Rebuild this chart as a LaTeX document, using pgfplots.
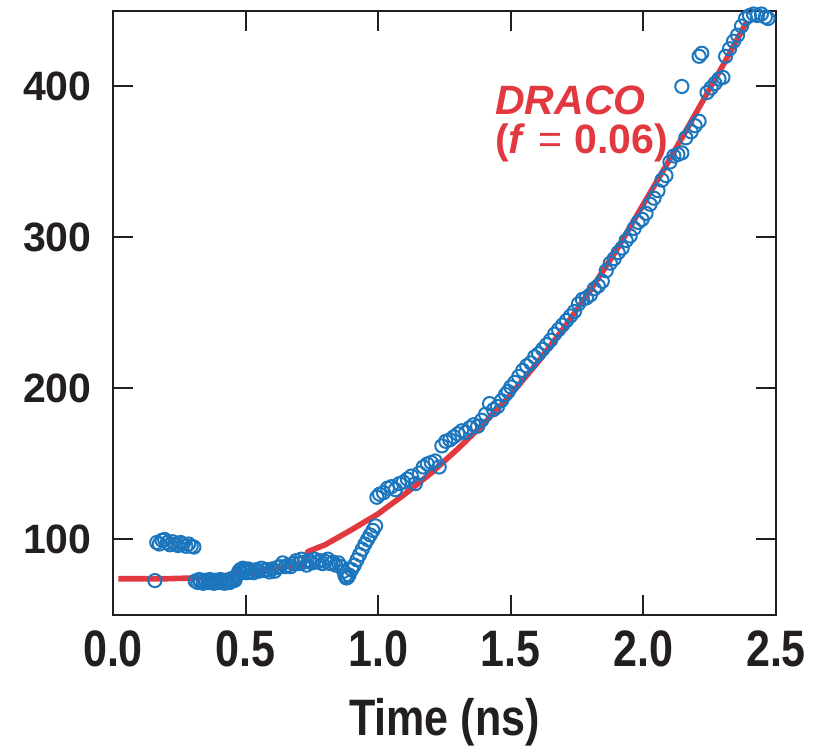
\documentclass[border=0pt]{standalone}
\usepackage{fontspec}
\setmainfont{Liberation Sans}
\usepackage{graphicx}
\usepackage{pgfplots}
\pgfplotsset{compat=1.18}
\definecolor{dblue}{RGB}{28,118,190}
\definecolor{dred}{RGB}{226,56,64}
\definecolor{axgray}{RGB}{35,31,32}
\newcommand{\lblfont}{\fontsize{20.5}{20}\selectfont\bfseries}
\newcommand{\xs}[1]{\scalebox{1.05}[1.25]{#1}}
\begin{document}
\begin{tikzpicture}
\useasboundingbox (-56.5pt,-66pt) rectangle (350.5pt,307.5pt);
\begin{axis}[
  at={(0,0)}, anchor=south west,
  scale only axis, width=331.5pt, height=302pt,
  xmin=0, xmax=2.5, ymin=50, ymax=450,
  axis line style={axgray, line width=1pt},
  tick style={axgray, line width=1pt},
  major tick length=10pt,
  tick align=inside,
  xtick={0,0.5,1,1.5,2,2.5},
  xticklabels={\xs{0.0},\xs{0.5},\xs{1.0},\xs{1.5},\xs{2.0},\xs{2.5}},
  ytick={100,200,300,400},
  yticklabels={100,200,300,400},
  xticklabel style={font=\lblfont, text=axgray, anchor=center, inner sep=0pt, yshift=-17pt},
  yticklabel style={font=\lblfont, text=axgray, anchor=east, inner sep=0pt, xshift=-10.5pt},
  xlabel={\xs{Time (ns)}},
  xlabel style={font=\lblfont, text=axgray, at={(axis description cs:0.5,0)}, anchor=center, yshift=-53.5pt},
]
\addplot[only marks, mark=o, mark size=3.3pt, mark options={dblue, line width=1pt}] coordinates {
(0.158,72.8)
(0.165,98) (0.175,97) (0.185,99.5) (0.195,100) (0.205,98) (0.215,96.5) (0.225,98.5) (0.235,97) (0.245,96) (0.255,98) (0.265,97) (0.275,95.5) (0.285,97) (0.295,95.5) (0.305,95)
(0.31,72.5) (0.32,71.5) (0.325,73.5) (0.33,72) (0.34,71) (0.345,73) (0.35,72) (0.36,71.5) (0.365,73.5) (0.37,72) (0.38,71) (0.385,73) (0.39,72) (0.40,71.5) (0.405,73.5) (0.41,72) (0.42,71) (0.425,73) (0.43,72) (0.44,71.5) (0.445,74) (0.45,72.5) (0.46,73) (0.465,75.5) (0.47,77) (0.475,79) (0.48,80) (0.485,78) (0.49,81) (0.495,79)
(0.50,80) (0.505,78) (0.51,80.5) (0.52,79) (0.53,78) (0.54,80) (0.55,79) (0.56,81) (0.57,79.5) (0.58,80) (0.59,78.5) (0.60,80.5) (0.61,79) (0.62,81.5) (0.63,82) (0.64,84.5) (0.65,82) (0.66,83) (0.67,82) (0.68,84) (0.69,86) (0.70,84) (0.71,87) (0.72,85) (0.73,83) (0.74,86) (0.75,84.5) (0.76,87) (0.77,85) (0.78,86) (0.79,84) (0.80,85.5) (0.81,87) (0.82,84) (0.83,85) (0.84,83) (0.85,84.5) (0.86,82) (0.87,79) (0.875,76) (0.88,74.5) (0.885,75) (0.89,76.5) (0.90,80) (0.91,83) (0.92,86.5) (0.93,90) (0.94,93.5) (0.95,97) (0.96,100) (0.97,103) (0.98,106) (0.99,109)
(0.995,128) (1.005,130) (1.02,131) (1.035,134) (1.05,135) (1.065,133) (1.08,137) (1.095,138) (1.11,140) (1.125,142) (1.14,137) (1.155,144) (1.17,148) (1.185,150) (1.20,151) (1.215,152) (1.23,148) (1.24,162) (1.255,165) (1.27,166) (1.285,168) (1.30,170) (1.315,172) (1.33,171) (1.345,174) (1.36,176) (1.375,175) (1.39,179) (1.405,183) (1.42,190) (1.435,186) (1.45,188) (1.465,192) (1.48,196) (1.49,198)
(1.50,201) (1.515,204) (1.53,208) (1.545,212) (1.56,215) (1.575,217) (1.59,221) (1.605,223) (1.62,226) (1.635,229) (1.65,232) (1.665,236) (1.68,239) (1.695,242) (1.71,245) (1.725,248) (1.74,251) (1.755,256) (1.77,259) (1.785,260) (1.80,262) (1.815,266) (1.83,268) (1.845,271) (1.86,278) (1.875,283) (1.89,286)
(1.905,290) (1.92,293) (1.935,298) (1.95,301) (1.965,306) (1.98,310) (1.995,312) (2.01,316) (2.025,322) (2.04,326) (2.055,331) (2.07,338) (2.085,341) (2.10,350) (2.115,354) (2.13,355) (2.145,356) (2.16,366) (2.18,370) (2.195,374) (2.21,377)
(2.24,396) (2.255,399) (2.27,402) (2.285,405) (2.30,406) (2.31,420) (2.325,425) (2.34,430) (2.355,434) (2.37,440) (2.385,445) (2.40,447) (2.415,448) (2.43,447) (2.445,448) (2.46,446) (2.47,445)
(2.145,400) (2.21,420) (2.22,422)
};
\addplot[dred, line width=2.8pt, line join=round] coordinates {
(0.02,74) (0.10,74) (0.20,74) (0.30,74.5) (0.40,75.5) (0.50,77.5) (0.60,80) (0.70,83.5) (0.715,81) (0.735,92) (0.80,96.5) (0.90,106.5) (1.00,117) (1.10,130) (1.20,144) (1.30,160) (1.40,177) (1.50,196) (1.60,217) (1.70,240) (1.80,265) (1.90,292) (2.00,322) (2.10,352) (2.20,383) (2.30,414) (2.39,443)
};
\node[anchor=north west, inner sep=0pt, align=left, text=dred, font=\fontsize{20.5}{19.5}\selectfont\bfseries] at (axis cs:1.44,401) {\textit{DRACO}\\(\textit{f}\hspace{0.3em}{\mdseries =}\hspace{0.3em}0.06)};
\end{axis}
\end{tikzpicture}
\end{document}
